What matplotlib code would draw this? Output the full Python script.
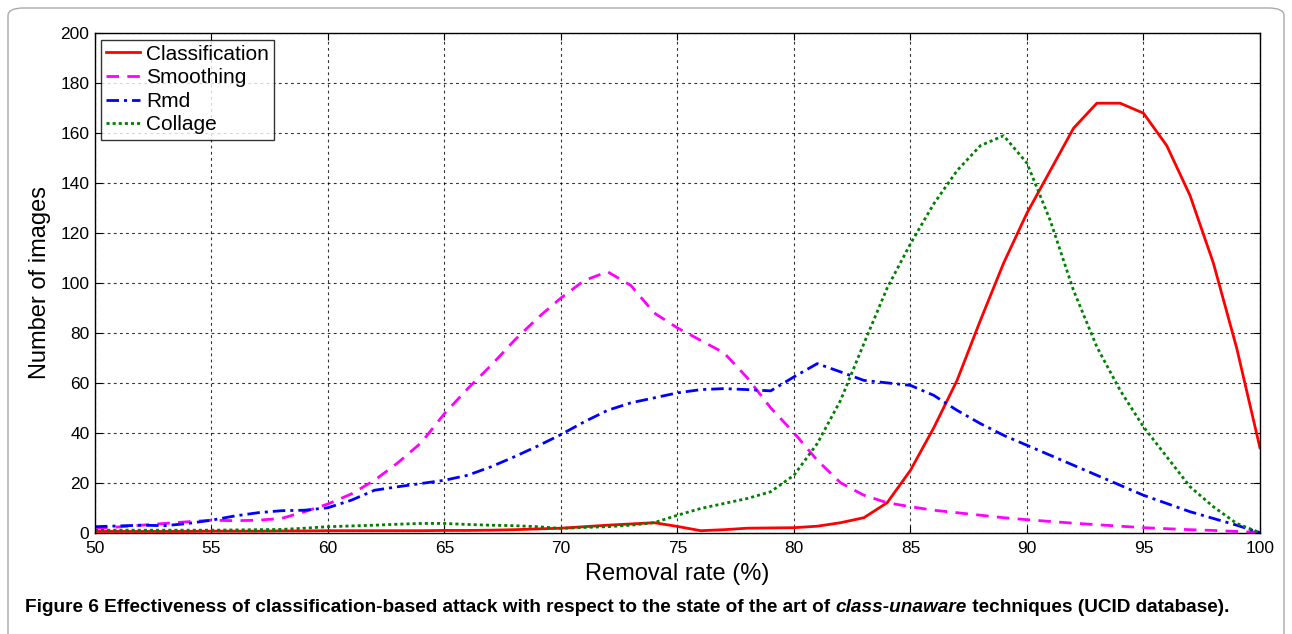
import numpy as np
import matplotlib.pyplot as plt
from matplotlib.patches import FancyBboxPatch

# removal rate (%) and number of images per curve
rate = np.arange(50, 101)

classification = [0.5, 0.5, 0.5, 0.5, 0.5, 0.6, 0.6, 0.6, 0.7, 0.7,
                  0.8, 0.8, 0.8, 0.8, 0.8, 0.9, 0.9, 1.0, 1.2, 1.5,
                  1.8, 2.4, 3.0, 3.5, 4.0, 2.5, 0.8, 1.2, 1.8, 1.9,
                  2.0, 2.6, 4.0, 6.0, 12, 25, 42, 61, 85, 108,
                  128, 145, 162, 172, 172, 168, 155, 135, 108, 74, 34]
smoothing = [1.7, 2.3, 3.0, 3.7, 4.4, 5.0, 4.8, 5.0, 5.7, 8.4,
             11.5, 15.5, 21, 28, 36, 47.7, 57.7, 67, 77, 86,
             94, 101, 104.5, 99, 88, 82, 77, 72, 62, 50,
             40, 29, 20, 15, 12, 10.4, 9, 8, 7, 6,
             5.2, 4.5, 3.8, 3.2, 2.6, 2.0, 1.6, 1.2, 0.9, 0.5, 0.2]
rmd = [2.4, 2.7, 3.0, 2.8, 3.7, 5.0, 6.7, 8.0, 8.8, 9.0,
       10, 13, 17, 18.4, 19.7, 21, 23, 26.4, 30.4, 34.7,
       39.3, 44.4, 49, 52, 54, 56, 57.3, 57.7, 57.3, 56.8,
       62.4, 67.7, 64.4, 61, 60, 59, 55, 49, 43.7, 39,
       35, 31, 27, 23, 19, 15, 11.7, 8.4, 5.7, 3.0, 0]
collage = [1.0, 1.0, 1.0, 1.0, 1.0, 1.0, 1.1, 1.2, 1.3, 1.8,
           2.4, 2.7, 3.0, 3.4, 3.7, 3.7, 3.3, 3.0, 2.8, 2.4,
           1.7, 2.1, 2.4, 3.0, 4.0, 7.0, 9.7, 11.7, 13.7, 16.4,
           23, 35.7, 53, 75.7, 98, 115.7, 131.7, 145, 155, 159,
           148, 125, 97, 74.4, 57, 42.4, 30.4, 18.4, 10.4, 3.7, 0]

plt.rcParams['font.family'] = ['Liberation Sans', 'DejaVu Sans']

fig = plt.figure(figsize=(12.92, 6.34), dpi=100)
ax = fig.add_axes([0.0735, 0.1598, 0.9017, 0.7877])

ax.plot(rate, classification, '-', color='red', lw=2.0, label='Classification')
ax.plot(rate, smoothing, '--', color='magenta', lw=2.0, dashes=(4.5, 3), label='Smoothing')
ax.plot(rate, rmd, '-.', color='blue', lw=2.0, dashes=(4.5, 1.8, 1.1, 1.8), label='Rmd')
ax.plot(rate, collage, ':', color='green', lw=2.0, dashes=(1.1, 1.1), label='Collage')

ax.set_xlim(50, 100)
ax.set_ylim(0, 200)
ax.set_xticks(np.arange(50, 101, 5))
ax.set_yticks(np.arange(0, 201, 20))
ax.tick_params(direction='in', top=True, right=True, labelsize=12.5, length=5)
ax.tick_params(axis='x', pad=6)
ax.tick_params(axis='y', pad=4)
ax.grid(True, color='black', linestyle=(0, (2.5, 3)), linewidth=0.8, alpha=0.8)
for s in ax.spines.values():
    s.set_linewidth(1.0)

ax.set_xlabel('Removal rate (%)', fontsize=17, labelpad=5)
ax.set_ylabel('Number of images', fontsize=17, labelpad=7)

leg = ax.legend(loc='upper left', fontsize=15, frameon=True, fancybox=False,
                borderpad=0.25, labelspacing=0.22, handlelength=1.6,
                handletextpad=0.3, borderaxespad=0.3)
leg.get_frame().set_edgecolor('black')
leg.get_frame().set_linewidth(1.0)

# rounded frame around the figure
frame = FancyBboxPatch((8 / 1292, -0.05), 1276 / 1292, 1.0 - 8 / 634 + 0.05,
                       boxstyle='round,pad=0,rounding_size=0.012',
                       transform=fig.transFigure, fill=False,
                       edgecolor='#aaaaaa', linewidth=1.0)
fig.add_artist(frame)

# caption, bold with an italic part, scaled to the reference width
cap = ['Figure 6 Effectiveness of classification-based attack with respect to the state of the art of ',
       'class-unaware', ' techniques (UCID database).']
styles = ['normal', 'italic', 'normal']
cap_family = ['Liberation Sans', 'DejaVu Sans']
fig.canvas.draw()
r = fig.canvas.get_renderer()
total = 0
for txt, st in zip(cap, styles):
    t = fig.text(0, 0, txt, fontsize=14, fontweight='bold', fontstyle=st, family=cap_family)
    total += t.get_window_extent(renderer=r).width
    t.remove()
size = 14 * 1210 / total
x = 25 / 1292
for txt, st in zip(cap, styles):
    t = fig.text(x, 1 - 612 / 634, txt, fontsize=size, fontweight='bold', fontstyle=st,
                 family=cap_family, va='baseline')
    x += t.get_window_extent(renderer=r).width / 1292

fig.savefig('out.png', dpi=100)
